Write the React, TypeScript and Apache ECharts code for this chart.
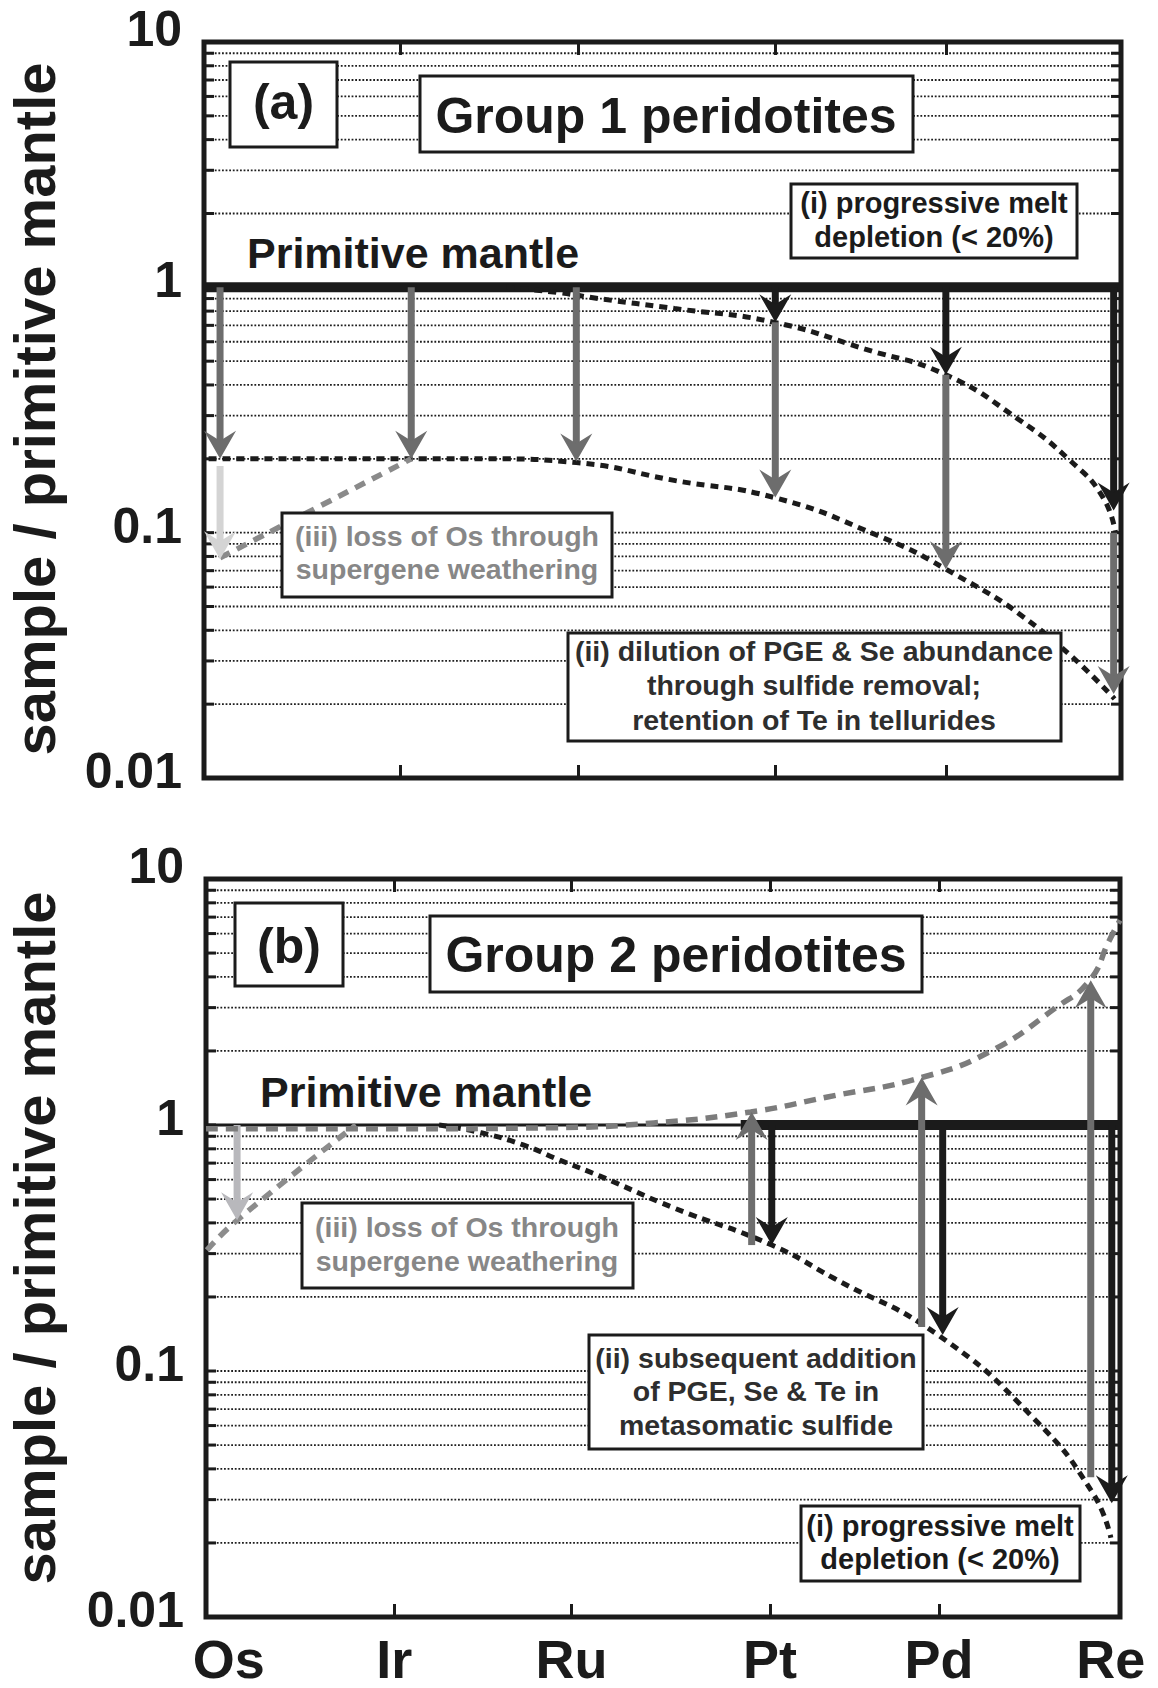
import React, { useEffect, useRef } from 'react';
import * as echarts from 'echarts';

const FONT = '"Liberation Sans", Arial, Helvetica, sans-serif';

// Elements along the x axis, placed on a 0-100 position scale per panel
const elements = ['Os', 'Ir', 'Ru', 'Pt', 'Pd', 'Re'];
const elementPosA = [1.75, 21.4, 40.8, 62.3, 80.9, 99.2];
const elementPosB = [2.5, 20.6, 40.0, 61.7, 80.2, 99.0];

// Decade labels of the log axis and the minor grid levels
const yTickLabels = ['0.01', '0.1', '1', '10'];
const gridValues = [
  0.02, 0.03, 0.04, 0.05, 0.06, 0.07, 0.08, 0.09,
  0.1, 0.2, 0.3, 0.4, 0.5, 0.6, 0.7, 0.8, 0.9,
  1, 2, 3, 4, 5, 6, 7, 8, 9,
];

// ---- Panel (a): Group 1 peridotites ----
const primitiveA = [[0, 1], [100, 1]];
const meltCurveA = [
  [33, 1.0], [38.8, 0.95], [43, 0.9], [51.3, 0.82], [62.2, 0.72], [72.1, 0.56],
  [80.9, 0.44], [88.8, 0.29], [94.5, 0.196], [98, 0.14], [99.4, 0.1],
];
const dilutionCurveA = [
  [0.5, 0.2], [12, 0.2], [22.6, 0.2], [31, 0.2], [40.6, 0.193], [51.4, 0.163],
  [62.2, 0.139], [73, 0.099], [80.9, 0.071], [90.9, 0.041], [99.3, 0.021],
];
const weatheringLineA = [[1.75, 0.079], [22.6, 0.2]];
// arrows: [x, from, to]
const blackArrowsA = [[62.3, 1, 0.72], [80.9, 1, 0.44], [99.2, 1, 0.123]];
const grayArrowsA = [
  [1.75, 1, 0.2], [22.6, 1, 0.2], [40.6, 1, 0.195],
  [62.3, 0.72, 0.139], [80.9, 0.44, 0.071], [99.2, 0.1, 0.022],
];
const lightArrowsA = [[1.75, 0.187, 0.078]];

// ---- Panel (b): Group 2 peridotites ----
const primitiveThinB = [[0, 1], [58.5, 1]];
const primitiveThickB = [[58.5, 1], [100, 1]];
const meltCurveB = [
  [25.5, 1.0], [30.1, 0.93], [34.7, 0.83], [38.7, 0.72], [43.1, 0.62], [51.2, 0.46],
  [61.9, 0.325], [68.8, 0.237], [80.1, 0.14], [90.6, 0.064], [97.0, 0.032], [99.0, 0.021],
];
const additionCurveB = [
  [0, 0.965], [20, 0.965], [38, 0.975], [49, 1.02], [59.6, 1.13], [68, 1.3],
  [78.3, 1.56], [85.9, 2.0], [93, 3.0], [96.7, 3.88], [98.8, 5.6], [100, 6.8],
];
const weatheringLineB = [[0.1, 0.31], [3.4, 0.41], [16.4, 1.0]];
const blackArrowsB = [[61.9, 1, 0.325], [80.6, 1, 0.14], [99.1, 1, 0.029]];
const grayArrowsB = [[59.7, 0.325, 1.13], [78.3, 0.151, 1.56], [96.8, 0.037, 3.88]];
const lightArrowsB = [[3.4, 1.0, 0.41]];

const INK = '#1b1b1b';
const GRAY = '#6d6d6d';

function arrowSeries(data: number[][], color: string, axis: number, z: number) {
  return {
    type: 'custom',
    coordinateSystem: 'cartesian2d',
    xAxisIndex: axis * 2,
    yAxisIndex: axis,
    encode: { x: 0, y: [1, 2] },
    data,
    z,
    silent: true,
    renderItem: (_params: any, api: any) => {
      const x = api.value(0);
      const a = api.coord([x, api.value(1)]);
      const b = api.coord([x, api.value(2)]);
      const dir = b[1] > a[1] ? 1 : -1;
      const L = 28;
      const H = 16;
      const N = 10;
      const tipY = b[1];
      const backY = tipY - dir * L;
      const notchY = tipY - dir * (L - N);
      return {
        type: 'group',
        children: [
          {
            type: 'line',
            shape: { x1: a[0], y1: a[1], x2: b[0], y2: notchY + dir * 3 },
            style: { stroke: color, lineWidth: 7 },
          },
          {
            type: 'polygon',
            shape: {
              points: [[b[0], tipY], [b[0] - H, backY], [b[0], notchY], [b[0] + H, backY]],
            },
            style: { fill: color },
          },
        ],
      };
    },
  };
}

function gridSeries(axis: number) {
  return {
    type: 'custom',
    coordinateSystem: 'cartesian2d',
    xAxisIndex: axis * 2,
    yAxisIndex: axis,
    encode: { x: 0, y: 1 },
    data: gridValues.map((v) => [0, v]),
    z: 1,
    silent: true,
    renderItem: (_params: any, api: any) => {
      const v = api.value(1);
      const l = api.coord([0, v]);
      const r = api.coord([100, v]);
      return {
        type: 'group',
        children: [
          {
            type: 'line',
            shape: { x1: l[0], y1: l[1], x2: r[0], y2: r[1] },
            style: { stroke: '#1e1e1e', lineWidth: 1.8, lineDash: [1.8, 1.8] },
          },
          {
            type: 'line',
            shape: { x1: l[0], y1: l[1], x2: l[0] + 10, y2: l[1] },
            style: { stroke: INK, lineWidth: 3 },
          },
          {
            type: 'line',
            shape: { x1: r[0] - 10, y1: r[1], x2: r[0], y2: r[1] },
            style: { stroke: INK, lineWidth: 3 },
          },
        ],
      };
    },
  };
}

function curve(data: number[][], color: string, width: number, dash: number[], axis: number, z = 3) {
  return {
    type: 'line',
    xAxisIndex: axis * 2,
    yAxisIndex: axis,
    data,
    smooth: 0.5,
    symbol: 'none',
    silent: true,
    z,
    lineStyle: { color, width, type: dash, cap: 'butt' },
  };
}

function solid(data: number[][], width: number, axis: number) {
  return {
    type: 'line',
    xAxisIndex: axis * 2,
    yAxisIndex: axis,
    data,
    symbol: 'none',
    silent: true,
    z: 3,
    lineStyle: { color: INK, width, cap: 'butt' },
  };
}

function xAxisPair(gridIndex: number, pos: number[], withLabels: boolean) {
  const ticks = pos.slice(1, 5);
  const tick = {
    show: true,
    inside: true,
    length: 13,
    customValues: ticks,
    lineStyle: { color: INK, width: 3 },
  };
  const bottom: any = {
    gridIndex,
    type: 'value',
    min: 0,
    max: 100,
    position: 'bottom',
    axisLine: { show: false },
    splitLine: { show: false },
    axisTick: tick,
    axisLabel: { show: false },
  };
  if (withLabels) {
    bottom.axisLabel = {
      show: true,
      customValues: pos,
      margin: 15,
      fontSize: 54,
      fontWeight: 'bold',
      fontFamily: FONT,
      color: INK,
      formatter: (v: number) => {
        let best = 0;
        pos.forEach((p, i) => {
          if (Math.abs(p - v) < Math.abs(pos[best] - v)) best = i;
        });
        return elements[best];
      },
    };
  }
  const top = {
    gridIndex,
    type: 'value',
    min: 0,
    max: 100,
    position: 'top',
    axisLine: { show: false },
    splitLine: { show: false },
    axisTick: tick,
    axisLabel: { show: false },
  };
  return [bottom, top];
}

function yAxis(gridIndex: number) {
  return {
    gridIndex,
    type: 'log',
    logBase: 10,
    min: 0.01,
    max: 10,
    position: 'left',
    axisLine: { show: false },
    axisTick: { show: false },
    splitLine: { show: false },
    minorTick: { show: false },
    axisLabel: {
      margin: 22,
      fontSize: 50,
      fontWeight: 'bold',
      fontFamily: FONT,
      color: INK,
      formatter: (v: number) => {
        const k = Math.round(Math.log10(v)) + 2;
        const t = yTickLabels[k] ?? '';
        return k === 3 ? `{top|${t}}` : `{dec|${t}}`;
      },
      rich: {
        dec: { fontSize: 50, fontWeight: 'bold', fontFamily: FONT, color: INK, padding: [0, 0, 14, 0] },
        top: { fontSize: 50, fontWeight: 'bold', fontFamily: FONT, color: INK, padding: [0, 0, 26, 0] },
      },
    },
  };
}

function box(x: number, y: number, w: number, h: number) {
  return {
    type: 'rect',
    z: 20,
    shape: { x, y, width: w, height: h },
    style: { fill: '#ffffff', stroke: INK, lineWidth: 3 },
  };
}

function label(text: string, x: number, y: number, size: number, fill = INK, align = 'center', lineHeight?: number) {
  return {
    type: 'text',
    z: 21,
    x,
    y,
    style: {
      text,
      fontSize: size,
      fontWeight: 'bold',
      fontFamily: FONT,
      fill,
      align,
      verticalAlign: 'middle',
      lineHeight: lineHeight ?? size,
    },
  };
}

function yTitle(y: number) {
  return {
    type: 'text',
    z: 21,
    x: 34,
    y,
    rotation: Math.PI / 2,
    style: {
      text: 'sample / primitive mantle',
      fontSize: 58,
      fontWeight: 'bold',
      fontFamily: FONT,
      fill: INK,
      align: 'center',
      verticalAlign: 'middle',
    },
  };
}

export default function App() {
  const ref = useRef<HTMLDivElement>(null);

  useEffect(() => {
    if (!ref.current) return;
    const chart = echarts.init(ref.current, undefined, { renderer: 'svg' });
    const option: any = {
      animation: false,
      backgroundColor: '#ffffff',
      grid: [
        { left: 204, top: 42, width: 917, height: 736, show: true, borderWidth: 5, borderColor: INK, backgroundColor: 'transparent' },
        { left: 206, top: 879, width: 914, height: 738, show: true, borderWidth: 5, borderColor: INK, backgroundColor: 'transparent' },
      ],
      xAxis: [...xAxisPair(0, elementPosA, false), ...xAxisPair(1, elementPosB, true)],
      yAxis: [yAxis(0), yAxis(1)],
      series: [
        // panel (a)
        gridSeries(0),
        solid(primitiveA, 10, 0),
        curve(meltCurveA, INK, 5, [8, 6], 0),
        curve(dilutionCurveA, INK, 5, [8, 6], 0),
        curve(weatheringLineA, '#8a8a8a', 5.5, [11, 8], 0),
        arrowSeries(lightArrowsA, '#d4d4d4', 0, 4),
        arrowSeries(grayArrowsA, GRAY, 0, 5),
        arrowSeries(blackArrowsA, INK, 0, 6),
        // panel (b)
        gridSeries(1),
        solid(primitiveThinB, 3, 1),
        solid(primitiveThickB, 10, 1),
        curve(meltCurveB, INK, 5, [8, 6], 1),
        curve(additionCurveB, '#7c7c7c', 5.5, [12, 8], 1, 4),
        curve(weatheringLineB, '#8c8c8c', 5.5, [11, 8], 1),
        arrowSeries(lightArrowsB, '#b8b8bc', 1, 4),
        arrowSeries(grayArrowsB, GRAY, 1, 5),
        arrowSeries(blackArrowsB, INK, 1, 6),
      ],
      graphic: [
        yTitle(409),
        yTitle(1238),
        // panel (a) annotations
        box(230, 62, 107, 85),
        label('(a)', 283.5, 102, 50),
        box(420, 76, 493, 76),
        label('Group 1 peridotites', 666, 116, 50),
        label('Primitive mantle', 247, 253, 43, INK, 'left'),
        box(791, 184, 286, 74),
        label('(i) progressive melt\ndepletion (< 20%)', 934, 220, 29, INK, 'center', 34),
        box(282, 513, 330, 84),
        label('(iii) loss of Os through\nsupergene weathering', 447, 552, 28.5, '#878787', 'center', 33),
        box(568, 633, 493, 108),
        label('(ii) dilution of PGE & Se abundance\nthrough sulfide removal;\nretention of Te in tellurides', 814, 685, 28.5, '#2e2e2e', 'center', 34.5),
        // panel (b) annotations
        box(235, 903, 108, 83),
        label('(b)', 289, 946, 50),
        box(430, 916, 492, 76),
        label('Group 2 peridotites', 676, 955, 50),
        label('Primitive mantle', 260, 1092, 43, INK, 'left'),
        box(302, 1203, 331, 85),
        label('(iii) loss of Os through\nsupergene weathering', 467, 1244, 28.5, '#878787', 'center', 34),
        box(589, 1335, 334, 114),
        label('(ii) subsequent addition\nof PGE, Se & Te in\nmetasomatic sulfide', 756, 1391, 28.5, '#2e2e2e', 'center', 33.5),
        box(801, 1506, 279, 75),
        label('(i) progressive melt\ndepletion (< 20%)', 940, 1542, 29, INK, 'center', 33),
      ],
    };
    chart.setOption(option);
    return () => chart.dispose();
  }, []);

  return (
    <div
      ref={ref}
      style={{ position: 'absolute', left: 0, top: 0, width: 1158, height: 1688, background: '#ffffff' }}
    />
  );
}
